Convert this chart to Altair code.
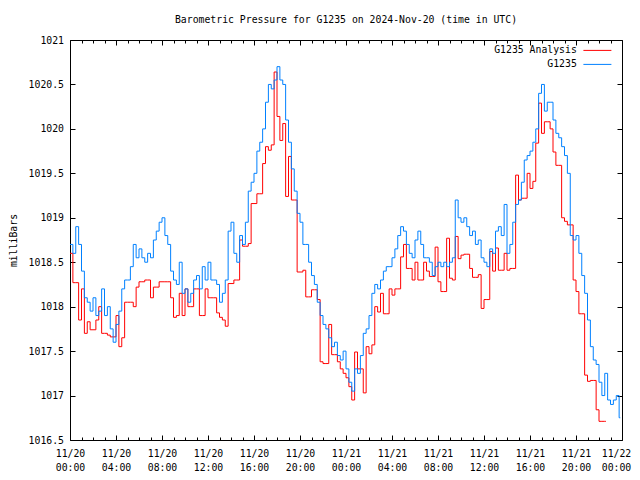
import altair as alt
import pandas as pd

# ---------------- data ----------------
title_text = "Barometric Pressure for G1235 on 2024-Nov-20 (time in UTC)"
y_title = "milliBars"
series_names = ["G1235 Analysis", "G1235"]
series_colors = ["#ff0000", "#0080ff"]

start_time = "2024-11-20T00:00:00Z"
end_time = "2024-11-22T00:00:00Z"
step = "15min"
analysis_last_time = "2024-11-21T22:36:00Z"
station_last_time = "2024-11-21T23:51:00Z"

# G1235 Analysis (red), every 15 minutes from 11/20 00:00
analysis = [
    1018.6, 1018.27, 1018.27, 1017.85, 1018.2, 1017.7, 1017.83, 1017.74,
    1017.74, 1017.85, 1018.0, 1017.7, 1017.7, 1017.68, 1017.66, 1017.66,
    1017.9, 1017.55, 1017.65, 1018.05, 1018.05, 1018.05, 1018.0, 1018.22,
    1018.28, 1018.28, 1018.3, 1018.3, 1018.1, 1018.22, 1018.22, 1018.28,
    1018.28, 1018.28, 1018.28, 1018.1, 1017.88, 1017.9, 1018.15, 1017.9,
    1018.2, 1018.0, 1018.0, 1018.2, 1018.2, 1017.9, 1017.9, 1018.2,
    1018.1, 1018.1, 1018.1, 1017.93, 1017.88, 1017.85, 1017.78, 1018.26,
    1018.26, 1018.3, 1018.3, 1018.75, 1018.68, 1018.68, 1018.71, 1019.16,
    1019.16, 1019.27, 1019.27, 1019.61, 1019.8, 1019.76, 1019.82, 1020.64,
    1020.14, 1019.87, 1020.06, 1019.24, 1019.69, 1019.2, 1019.2, 1018.39,
    1018.39, 1018.41, 1018.11, 1018.11, 1018.19, 1018.19, 1018.08, 1017.38,
    1017.36, 1017.36, 1017.8, 1017.46, 1017.46, 1017.38, 1017.3, 1017.25,
    1017.2, 1017.1, 1016.95, 1017.49, 1017.3, 1017.3, 1017.03, 1017.55,
    1017.47, 1017.57, 1018.0, 1017.94, 1018.15, 1017.92, 1017.92, 1018.2,
    1018.13, 1018.2, 1018.2, 1018.56, 1018.7, 1018.43, 1018.43, 1018.3,
    1018.5, 1018.3, 1018.3, 1018.5, 1018.4, 1018.34, 1018.34, 1018.67,
    1018.28, 1018.17, 1018.17, 1018.77, 1018.32, 1018.3, 1018.79, 1018.54,
    1018.58, 1018.59, 1018.59, 1018.43, 1018.33, 1018.33, 1018.36, 1017.98,
    1018.08, 1018.08, 1018.62, 1018.4, 1018.66, 1018.41, 1018.41, 1018.6,
    1018.41, 1018.43, 1018.43, 1019.48, 1019.2, 1019.22, 1019.22, 1019.5,
    1019.33, 1019.41, 1019.84, 1020.29, 1019.95, 1020.08, 1020.08, 1020.0,
    1019.74, 1019.59, 1019.59, 1019.0, 1018.96, 1018.92, 1018.92, 1018.3,
    1018.17, 1017.92, 1017.92, 1017.23, 1017.16, 1017.17, 1017.17, 1016.84,
    1016.71, 1016.71, 1016.71,
]

# G1235 station (blue), every 15 minutes from 11/20 00:00
station = [
    1018.7, 1018.6, 1018.9, 1018.7, 1018.4, 1018.1, 1018.05, 1017.95,
    1018.1, 1017.9, 1017.95, 1018.2, 1017.9, 1018.0, 1017.75, 1017.6,
    1017.8, 1017.95, 1018.2, 1018.3, 1018.3, 1018.45, 1018.7, 1018.55,
    1018.65, 1018.55, 1018.5, 1018.6, 1018.55, 1018.75, 1018.85, 1018.95,
    1019.0, 1018.8, 1018.7, 1018.4, 1018.3, 1018.25, 1018.5, 1018.15,
    1018.2, 1018.05, 1018.15, 1018.3, 1018.35, 1018.2, 1018.45, 1018.3,
    1018.5, 1018.3, 1018.3, 1018.25, 1018.05, 1018.15, 1018.3, 1018.85,
    1018.95, 1018.6, 1018.5, 1018.8, 1018.7, 1018.95, 1019.3, 1019.4,
    1019.5, 1019.75, 1019.85, 1020.0, 1020.3, 1020.5, 1020.45, 1020.55,
    1020.7, 1020.55, 1020.5, 1020.1, 1019.85, 1019.55, 1019.3, 1019.05,
    1018.95, 1018.7, 1018.7, 1018.5, 1018.35, 1018.25, 1018.05, 1017.9,
    1017.8, 1017.75, 1017.65, 1017.55, 1017.6, 1017.45, 1017.4, 1017.5,
    1017.3, 1017.15, 1017.05, 1017.3, 1017.25, 1017.45, 1017.7, 1017.75,
    1017.9, 1018.15, 1018.25, 1018.2, 1018.3, 1018.4, 1018.45, 1018.45,
    1018.55, 1018.65, 1018.8, 1018.9, 1018.85, 1018.7, 1018.6, 1018.55,
    1018.75, 1018.85, 1018.7, 1018.55, 1018.55, 1018.5, 1018.35, 1018.45,
    1018.5, 1018.45, 1018.5, 1018.45, 1018.5, 1018.55, 1019.2, 1019.0,
    1018.95, 1019.0, 1018.9, 1018.8, 1018.85, 1018.7, 1018.75, 1018.55,
    1018.5, 1018.45, 1018.65, 1018.6, 1018.85, 1018.9, 1018.8, 1019.15,
    1018.6, 1018.7, 1018.95, 1019.15, 1019.2, 1019.4, 1019.65, 1019.7,
    1019.75, 1019.85, 1020.0, 1020.4, 1020.5, 1020.2, 1020.3, 1020.3,
    1020.1, 1019.95, 1019.9, 1019.8, 1019.7, 1019.5, 1018.8, 1018.75,
    1018.8, 1018.6, 1018.35, 1018.15, 1017.85, 1017.55, 1017.4, 1017.35,
    1017.15, 1017.0, 1017.25, 1016.95, 1016.9, 1016.95, 1017.0, 1016.75,
]

x_tick_hours = list(range(0, 49))          # a tick every hour
x_label_every = 4                          # labels every 4 hours
y_ticks = [1016.5, 1017, 1017.5, 1018, 1018.5, 1019, 1019.5, 1020, 1020.5, 1021]
y_domain = [1016.5, 1021]


def make_frame(values, name, last_time):
    times = list(pd.date_range(start_time, periods=len(values), freq=step))
    times.append(pd.Timestamp(last_time))
    vals = list(values) + [values[-1]]
    return pd.DataFrame({
        "time": [t.strftime("%Y-%m-%dT%H:%M:%SZ") for t in times],
        "pressure": vals,
        "series": name,
    })


red_df = make_frame(analysis, series_names[0], analysis_last_time)
blue_df = make_frame(station, series_names[1], station_last_time)

t0 = pd.Timestamp(start_time)
tick_ms = [int((t0 + pd.Timedelta(hours=h)).timestamp() * 1000) for h in x_tick_hours]
x_domain = [int(pd.Timestamp(start_time).timestamp() * 1000),
            int(pd.Timestamp(end_time).timestamp() * 1000)]

FONT = "DejaVu Sans Mono"
FS = 9.8

x_scale = alt.Scale(type="utc", domain=x_domain, nice=False)
y_scale = alt.Scale(domain=y_domain, nice=False, zero=False)

minor_test = f"utchours(datum.value) % {x_label_every} != 0"
tick_dash = {"condition": {"test": minor_test, "value": [3, 30]}, "value": [30, 0]}
last_label_test = f"datum.value >= {tick_ms[-1]}"

common_axis = dict(
    grid=False, domain=True, domainColor="black", domainWidth=1,
    ticks=True, tickColor="black", tickWidth=1, tickSize={"expr": "-5"},
    title=None,
)

bottom_axis = alt.Axis(
    orient="bottom", values=tick_ms, tickDash=tick_dash,
    labelExpr=(f"utchours(datum.value) % {x_label_every} == 0 ? "
               "[utcFormat(datum.value, '%m/%d'), utcFormat(datum.value, '%H:%M')] : ''"),
    labelFont=FONT, labelFontSize=FS, labelColor="black", labelPadding=13,
    labelLineHeight=14, labelOverlap=False, labelFlush=False, labelAngle=0,
    labelBound=False,
    labelOffset={"condition": {"test": last_label_test, "value": -6}, "value": 0},
    **common_axis,
)
top_axis = alt.Axis(orient="top", values=tick_ms, tickDash=tick_dash,
                    labels=False, **common_axis)

left_axis_opts = dict(common_axis)
left_axis_opts.pop("title")
left_axis = alt.Axis(
    orient="left", values=y_ticks, format="~f",
    labelFont=FONT, labelFontSize=FS, labelColor="black", labelPadding=11.5,
    labelOverlap=False, labelFlush=False,
    title=y_title, titleFont=FONT, titleFontSize=FS, titleFontWeight="normal",
    titleColor="black", titleAngle=270, titleAlign="center", titleBaseline="middle",
    titleX=-57, titleY=200,
    **left_axis_opts,
)
right_axis = alt.Axis(orient="right", values=y_ticks, labels=False, **common_axis)

legend = alt.Legend(
    title=None, orient="none", legendX=522.5, legendY=5.5, padding=0,
    symbolType="M-4,0H4", symbolSize=49, symbolStrokeWidth=1,
    labelAlign="right", labelOffset={"expr": "-25.5"}, labelFont=FONT, labelFontSize=FS,
    labelColor="black", rowPadding=3,
)
color = alt.Color("series:N", scale=alt.Scale(domain=series_names, range=series_colors),
                  legend=legend)

red_layer = alt.Chart(red_df).mark_line(interpolate="step-after", strokeWidth=1).encode(
    x=alt.X("time:T", scale=x_scale, axis=top_axis),
    y=alt.Y("pressure:Q", scale=y_scale, axis=right_axis),
    color=color,
)
blue_layer = alt.Chart(blue_df).mark_line(interpolate="step-after", strokeWidth=1).encode(
    x=alt.X("time:T", scale=x_scale, axis=bottom_axis),
    y=alt.Y("pressure:Q", scale=y_scale, axis=left_axis),
    color=color,
)

chart = alt.layer(red_layer, blue_layer).resolve_axis(
    x="independent", y="independent"
).properties(
    width=552, height=400,
    autosize=alt.AutoSizeParams(type="none"),
    padding={"left": 62, "top": 32, "right": 10, "bottom": 34},
    title=alt.TitleParams(text=title_text, font=FONT, fontSize=FS, fontWeight="normal",
                          color="black", anchor="middle", baseline="bottom", offset=0),
).configure_view(stroke=None).configure(background="white")

chart.save("out.html", embed_options={"renderer": "svg", "actions": False})
